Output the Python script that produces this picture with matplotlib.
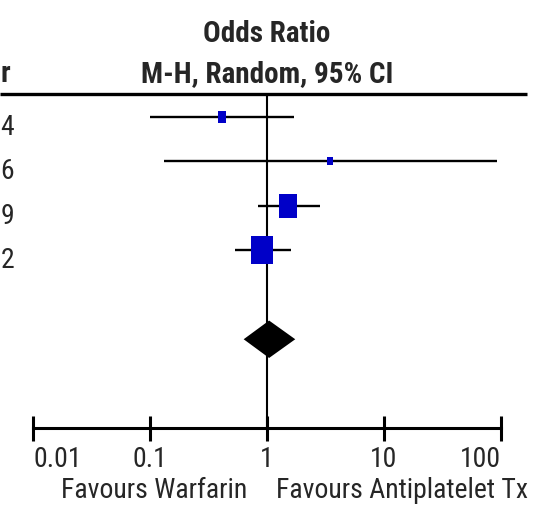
import matplotlib
matplotlib.use("Agg")
import matplotlib.pyplot as plt
from matplotlib import font_manager
import numpy as np

# study rows: the source image is cropped, only the last digit of each year shows
year_tail = ["4", "6", "9", "2"]
odds_ratio = [0.41, 3.44, 1.51, 0.91]
ci_low = [0.10, 0.13, 0.84, 0.53]
ci_high = [1.69, 91.6, 2.82, 1.59]
weights = [8.2, 4.9, 37.8, 49.1]

# pooled estimate
pooled_or = 1.04
pooled_low = 0.63
pooled_high = 1.74

tick_values = [0.01, 0.1, 1, 10, 100]
tick_labels = ["0.01", "0.1", "1", "10", "100"]

# the original uses a narrow sans; take one if available
installed = {f.name for f in font_manager.fontManager.ttflist}
font, fs, hfs = "Liberation Sans", 17, 17
for name, size, hsize in [("Liberation Sans Narrow", 20.5, 20.5), ("Arial Narrow", 20.5, 20.5),
                          ("Roboto Condensed", 20, 21)]:
    if name in installed:
        font, fs, hfs = name, size, hsize
        break
plt.rcParams["font.family"] = [font, "DejaVu Sans"]

txt_col = "#262626"
box_col = "#0000C8"

fig = plt.figure(figsize=(5.35, 5.09), dpi=100)
ax = fig.add_axes([0.0622, 0.1585, 0.8742, 0.6562])
ax.set_xscale("log")
ax.set_xlim(0.01, 100)
ax.set_ylim(7, -0.5)

rows = np.arange(len(year_tail))

# confidence intervals
for r, lo, hi in zip(rows, ci_low, ci_high):
    ax.plot([lo, hi], [r, r], color="black", lw=1.7, solid_capstyle="butt", zorder=3)

# weight boxes (slightly taller than wide, as in the original export)
box_marker = [(-1, -1.3), (1, -1.3), (1, 1.3), (-1, 1.3), (-1, -1.3)]
for r, o, w in zip(rows, odds_ratio, weights):
    side_px = 3.04 * np.sqrt(w)
    ax.plot(o, r, marker=box_marker, markersize=side_px * 1.3 * 0.72,
            color=box_col, markeredgewidth=0, linestyle="none", zorder=4)

# pooled diamond
d_row = len(year_tail) + 1
d_half = 0.42
ax.fill([pooled_low, pooled_or, pooled_high, pooled_or],
        [d_row, d_row - d_half, d_row, d_row + d_half],
        color="black", lw=0, zorder=4)

# line of no effect
ax.axvline(1, color="black", lw=1.5, zorder=2)

# header rule, running past the plot area
ax.plot([-0.0712, 1.055], [-0.5, -0.5], color="black", lw=2.4,
        transform=ax.get_yaxis_transform(), clip_on=False, solid_capstyle="butt")

# axis styling
for s in ["top", "left", "right"]:
    ax.spines[s].set_visible(False)
ax.spines["bottom"].set_linewidth(2.2)
ax.set_yticks([])
ax.minorticks_off()
ax.set_xticks(tick_values, tick_labels)
ax.tick_params(axis="x", direction="inout", length=18, width=2.2,
               pad=4, labelsize=fs, labelcolor=txt_col)
labels = ax.get_xticklabels()
labels[0].set_ha("left")
labels[-1].set_ha("right")

# headers
ax.text(1, -1.68, "Odds Ratio", ha="center", va="baseline", fontsize=hfs,
        fontweight="bold", color=txt_col)
ax.text(1, -0.78, "M-H, Random, 95% CI", ha="center", va="baseline", fontsize=hfs,
        fontweight="bold", color=txt_col)
ax.text(-0.0498, -0.78, "r", ha="right", va="baseline", fontsize=hfs,
        fontweight="bold", color=txt_col, transform=ax.get_yaxis_transform(),
        clip_on=False)

# year column (last digits)
for r, y in zip(rows, year_tail):
    ax.text(-0.0412, r + 0.41, y, ha="right", va="baseline", fontsize=fs,
            color=txt_col, transform=ax.get_yaxis_transform(), clip_on=False)

# favours labels
ax.text(0.457, 8.57, "Favours Warfarin", ha="right", va="baseline", fontsize=fs,
        color=txt_col, transform=ax.get_yaxis_transform(), clip_on=False)
ax.text(0.520, 8.57, "Favours Antiplatelet Tx", ha="left", va="baseline", fontsize=fs,
        color=txt_col, transform=ax.get_yaxis_transform(), clip_on=False)

fig.savefig("out.png", dpi=100)
